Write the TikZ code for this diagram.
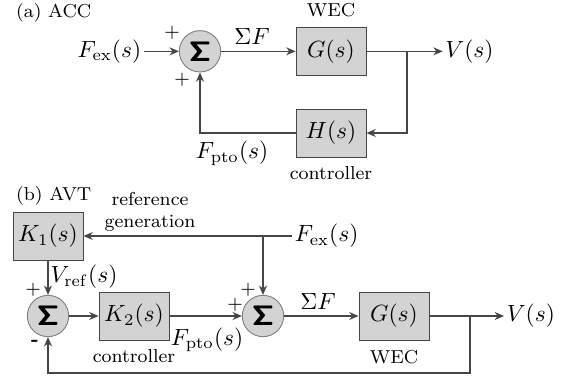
\documentclass[tikz,border=0pt]{standalone}
\usepackage{amsmath}
\usepackage{tikz}
\usetikzlibrary{arrows.meta,positioning,calc}
\definecolor{blockgray}{RGB}{211,211,211}
\definecolor{wiregray}{RGB}{70,70,70}
\newcommand{\sumsym}{\ensuremath{\boldsymbol{\mathsf{\Sigma}}}}

\begin{document}
\begin{tikzpicture}[
  >={Stealth[length=1.4mm,width=1.2mm]},
  block/.style={rectangle,draw=wiregray,fill=blockgray,minimum width=1.05cm,minimum height=0.72cm,inner sep=1pt},
  sumnode/.style={circle,draw=gray,fill=blockgray,minimum size=0.62cm,inner sep=0pt,font=\large},
  wire/.style={draw=wiregray,line width=0.5pt},
  caption/.style={font=\footnotesize,inner sep=1pt},
  sign/.style={font=\footnotesize,inner sep=0pt},
]
\useasboundingbox (0,0) rectangle (8.46,5.67);

% (a) ACC
\node[caption,anchor=west] (title_a) at (0.2,5.475) {(a) ACC};
\node[sumnode] (sum_a) at (3.0,4.9) {\sumsym};
\node[block] (g_a) at (4.965,4.9) {$G(s)$};
\node[block] (h_a) at (4.965,3.675) {$H(s)$};
\node[anchor=east,inner sep=1pt] (fex_a) at (2.16,4.9) {$F_{\mathrm{ex}}(s)$};
\node[anchor=west,inner sep=1pt] (v_a) at (6.64,4.9) {$V(s)$};
\coordinate (split_a) at (6.105,4.9);
\node[caption,above=0.1cm of g_a] (wec_a) {WEC};
\node[caption,below=0.1cm of h_a] (ctrl_a) {controller};
\node[inner sep=1pt] (sf_a) at (3.78,5.12) {$\Sigma F$};
\node[inner sep=1pt] (fpto_a) at (3.48,3.37) {$F_{\mathrm{pto}}(s)$};
\node[sign] (p1_a) at (2.58,5.175) {$+$};
\node[sign] (p2_a) at (2.73,4.47) {$+$};

\draw[wire,->] (fex_a) -- (sum_a);
\draw[wire,->] (sum_a) -- (g_a);
\draw[wire,->] (g_a) -- (v_a);
\draw[wire,->] (split_a) |- (h_a);
\draw[wire,->] (h_a) -| (sum_a);

% (b) AVT
\node[caption,anchor=west] (title_b) at (0.2,2.73) {(b) AVT};
\node[block] (k1_b) at (0.72,2.13) {$K_1(s)$};
\node[caption,align=center] (refgen_b) at (2.25,2.49) {reference\\generation};
\node[anchor=west,inner sep=1pt] (fex_b) at (4.38,2.13) {$F_{\mathrm{ex}}(s)$};
\coordinate (split_b) at (3.945,2.13);
\node[sumnode] (sum1_b) at (0.72,0.93) {\sumsym};
\node[block] (k2_b) at (2.01,0.93) {$K_2(s)$};
\node[sumnode] (sum2_b) at (3.945,0.93) {\sumsym};
\node[block] (g_b) at (5.91,0.93) {$G(s)$};
\node[anchor=west,inner sep=1pt] (v_b) at (7.56,0.93) {$V(s)$};
\coordinate (split2_b) at (7.05,0.93);
\coordinate (ret_b) at (7.05,0.075);
\node[caption,below=0.1cm of k2_b] (ctrl_b) {controller};
\node[caption,below=0.1cm of g_b] (wec_b) {WEC};
\node[inner sep=1pt] (vref_b) at (1.26,1.515) {$V_{\mathrm{ref}}(s)$};
\node[inner sep=1pt] (sf_b) at (4.77,1.15) {$\Sigma F$};
\node[inner sep=1pt] (fpto_b) at (3.105,0.57) {$F_{\mathrm{pto}}(s)$};
\node[sign] (p1_b) at (0.495,1.33) {$+$};
\node[sign] (m1_b) at (0.525,0.53) {\bfseries -};
\node[sign] (p2_b) at (3.72,1.33) {$+$};
\node[sign] (p3_b) at (3.525,1.1) {$+$};

\draw[wire,->] (fex_b) -- (k1_b);
\draw[wire,->] (split_b) -- (sum2_b);
\draw[wire,->] (k1_b) -- (sum1_b);
\draw[wire,->] (sum1_b) -- (k2_b);
\draw[wire,->] (k2_b) -- (sum2_b);
\draw[wire,->] (sum2_b) -- (g_b);
\draw[wire,->] (g_b) -- (v_b);
\draw[wire,->] (split2_b) -- (ret_b) -| (sum1_b);

\end{tikzpicture}
\end{document}
